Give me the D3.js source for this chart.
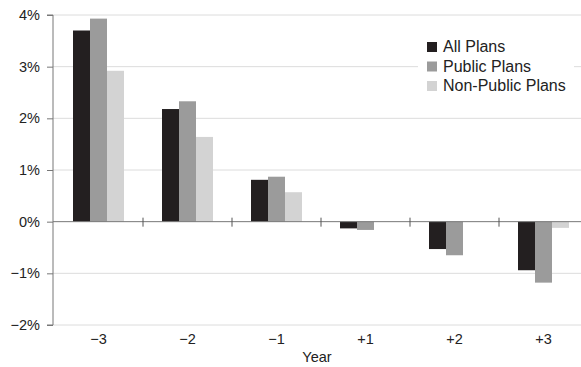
<!DOCTYPE html>
<html><head><meta charset="utf-8">
<script src="https://cdn.jsdelivr.net/npm/d3@7"></script>
<style>body{margin:0;background:#fff}svg{display:block;font-family:"Liberation Sans",Arial,sans-serif}</style>
</head><body><svg id="c" width="581" height="367"></svg>
<script>
const categories = ["−3","−2","−1","+1","+2","+3"];
const seriesNames = ["All Plans","Public Plans","Non-Public Plans"];
const allPlans = [3.70, 2.18, 0.81, -0.13, -0.53, -0.94];
const publicPlans = [3.93, 2.33, 0.87, -0.16, -0.65, -1.18];
const nonPublicPlans = [2.92, 1.64, 0.57, 0, 0, -0.12];
const yTicks = [-2,-1,0,1,2,3,4];
const colors = ["#231f20","#9b9b9b","#d3d3d3"];

const svg = d3.select("#c");
const m = {l:53, t:15, b:42};
const W = 581, H = 367;
const x = d3.scaleBand().domain(categories).range([54, 588]).paddingInner(0).paddingOuter(0);
const y = d3.scaleLinear().domain([-2,4]).range([H - m.b, m.t]);
const series = [allPlans, publicPlans, nonPublicPlans];
const barW = 17;
const xs = d3.scaleBand().domain(d3.range(3)).range([-barW*1.5, barW*1.5]);

// gridlines
svg.append("g").selectAll("line").data(yTicks.filter(d=>d!==0)).join("line")
  .attr("x1", m.l).attr("x2", W).attr("y1", d=>y(d)).attr("y2", d=>y(d))
  .attr("stroke","#dcdcdc").attr("stroke-width",1);

// bars
series.forEach((vals,si)=>{
  svg.append("g").selectAll("rect").data(vals.map((v,i)=>({v,c:categories[i]}))).join("rect")
    .attr("x", d=>x(d.c)+x.bandwidth()/2+xs(si))
    .attr("width", xs.bandwidth())
    .attr("y", d=>y(Math.max(0,d.v)))
    .attr("height", d=>Math.abs(y(d.v)-y(0)))
    .attr("fill", colors[si]);
});

// zero axis
svg.append("line").attr("x1",m.l).attr("x2",W).attr("y1",y(0)).attr("y2",y(0)).attr("stroke","#777").attr("stroke-width",1);
// x separators ticks
svg.append("g").selectAll("line").data(categories.slice(1)).join("line")
  .attr("x1",d=>x(d)).attr("x2",d=>x(d)).attr("y1",y(0)-4).attr("y2",y(0)+5)
  .attr("stroke","#555").attr("stroke-width",1);

// y axis
const yAxis = d3.axisLeft(y).tickValues(yTicks).tickSize(6).tickPadding(7)
  .tickFormat(d=> (d<0?"−"+Math.abs(d):d)+"%");
const ga = svg.append("g").attr("transform",`translate(${m.l},0)`).call(yAxis);
ga.select(".domain").attr("stroke","#777").attr("d",`M-6,${y(4)}H0V${y(-2)}H-6`);
ga.selectAll(".tick line").attr("stroke","#777");
ga.selectAll("text").attr("font-size",14.5).attr("fill","#222").attr("font-family","Liberation Sans,Arial,sans-serif");

// x labels
svg.append("g").selectAll("text").data(categories).join("text")
  .attr("x", d=>x(d)+x.bandwidth()/2).attr("y", H-m.b+19)
  .attr("text-anchor","middle").attr("font-size",14.5).attr("fill","#222").text(d=>d);
svg.append("text").attr("x",317).attr("y",H-5).attr("text-anchor","middle")
  .attr("font-size",14.5).attr("fill","#222").text("Year");

// legend
const lg = svg.append("g").attr("transform","translate(418,35)");
lg.append("rect").attr("x",0).attr("y",0).attr("width",156).attr("height",64).attr("fill","#fff");
seriesNames.forEach((n,i)=>{
  lg.append("rect").attr("x",9).attr("y",7+i*19.5).attr("width",10).attr("height",10).attr("fill",colors[i]);
  lg.append("text").attr("x",25).attr("y",17+i*19.5).attr("font-size",16).attr("fill","#222").text(n);
});
</script></body></html>
